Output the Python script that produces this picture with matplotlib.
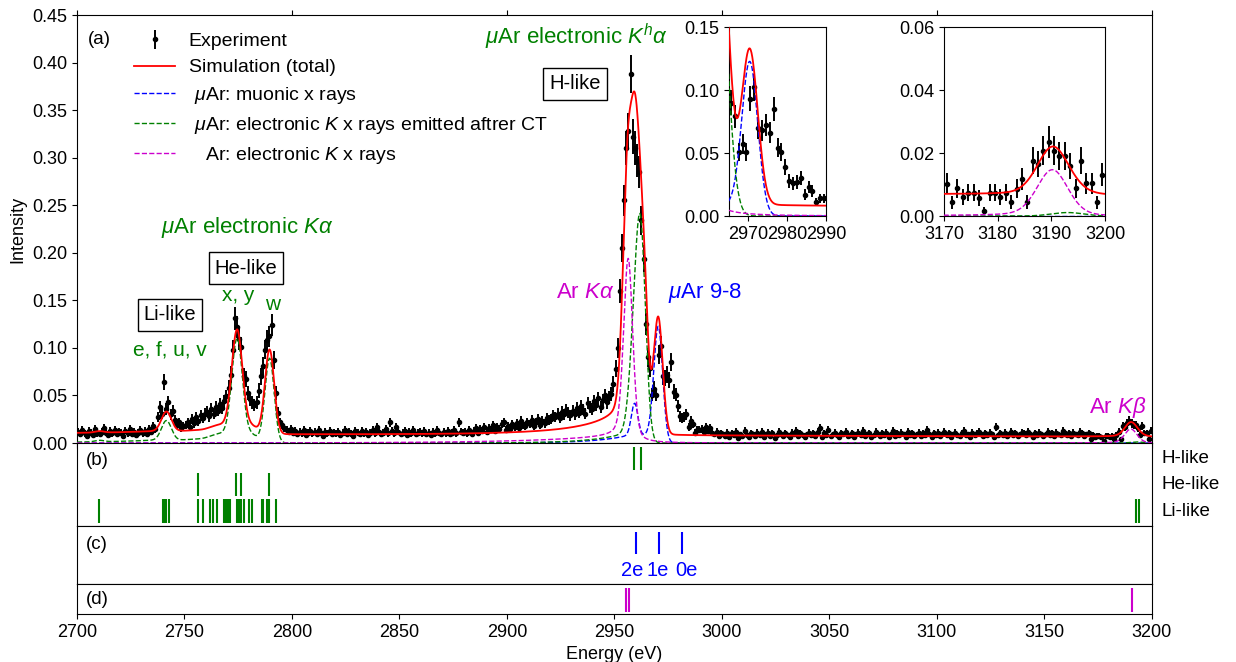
import math
import numpy as np
import matplotlib
matplotlib.use("Agg")
import matplotlib.pyplot as plt
from matplotlib.lines import Line2D

plt.rcParams['font.family'] = ['Liberation Sans', 'DejaVu Sans']
plt.rcParams['font.size'] = 13
plt.rcParams['mathtext.fontset'] = 'custom'
plt.rcParams['mathtext.rm'] = 'Liberation Sans'
plt.rcParams['mathtext.it'] = 'Liberation Sans:italic'

# ---- experiment: 1 eV bins, intensity in units of 1e-3 ----
bin_start = 2700
exp_milli = [
    12, 9, 14, 10, 7, 13, 11, 8, 15, 10,
    9, 12, 16, 11, 8, 13, 10, 14, 9, 12,
    11, 7, 13, 10, 15, 9, 12, 8, 11, 14,
    10, 13, 9, 15, 12, 18, 15, 27, 38, 31,
    64, 36, 43, 30, 34, 24, 19, 22, 16, 18,
    19, 22, 17, 25, 21, 27, 23, 29, 26, 31,
    33, 28, 36, 31, 38, 34, 41, 37, 44, 49,
    58, 72, 98, 131, 122, 109, 101, 70, 67, 53,
    46, 43, 40, 43, 55, 70, 81, 98, 108, 112,
    124, 87, 53, 32, 22, 19, 16, 14, 12, 15,
    11, 13, 9, 12, 10, 14, 8, 11, 13, 10,
    12, 9, 14, 11, 7, 12, 10, 13, 9, 11,
    10, 12, 8, 11, 14, 9, 12, 10, 7, 13,
    11, 9, 13, 10, 12, 8, 11, 14, 10, 17,
    12, 9, 11, 15, 10, 22, 13, 10, 17, 12,
    9, 11, 13, 8, 12, 10, 14, 9, 11, 12,
    10, 13, 9, 11, 8, 12, 10, 14, 11, 9,
    12, 10, 13, 9, 11, 14, 10, 22, 12, 11,
    12, 10, 14, 9, 13, 16, 11, 15, 13, 17,
    12, 16, 14, 19, 13, 17, 15, 20, 22, 14,
    18, 15, 20, 17, 21, 16, 23, 19, 18, 22,
    20, 24, 18, 22, 25, 19, 23, 21, 26, 24,
    25, 29, 27, 31, 26, 33, 30, 35, 32, 29,
    34, 30, 37, 32, 39, 35, 31, 42, 38, 36,
    44, 40, 47, 38, 45, 50, 43, 48, 52, 62,
    78, 100, 160, 205, 255, 310, 328, 388, 322, 310,
    297, 285, 234, 194, 125, 90, 79, 51, 57, 51,
    93, 102, 70, 68, 72, 66, 85, 54, 51, 39,
    28, 26, 27, 30, 17, 23, 20, 11, 14, 14,
    15, 12, 17, 13, 16, 11, 9, 12, 7, 10,
    9, 7, 11, 6, 10, 8, 12, 5, 9, 7,
    13, 8, 6, 10, 9, 7, 11, 8, 12, 6,
    9, 11, 7, 10, 5, 8, 12, 9, 7, 10,
    8, 6, 11, 9, 13, 7, 10, 8, 6, 9,
    11, 8, 10, 7, 12, 16, 6, 10, 8, 14,
    7, 9, 11, 8, 6, 10, 9, 12, 7, 8,
    10, 6, 9, 11, 8, 13, 7, 9, 10, 6,
    8, 12, 9, 7, 10, 8, 11, 6, 9, 13,
    7, 10, 8, 11, 9, 6, 12, 8, 10, 7,
    9, 11, 7, 10, 8, 14, 9, 6, 10, 8,
    11, 7, 9, 12, 8, 10, 6, 9, 11, 8,
    7, 10, 13, 8, 9, 6, 11, 8, 10, 12,
    9, 7, 10, 8, 11, 9, 6, 17, 8, 10,
    8, 11, 7, 9, 12, 8, 10, 7, 9, 11,
    10, 8, 12, 9, 6, 10, 8, 11, 9, 7,
    9, 12, 8, 10, 7, 11, 9, 8, 13, 10,
    8, 10, 7, 11, 9, 8, 12, 10, 7, 9,
    10.3, 4.3, 8.8, 6.1, 7.4, 7.4, 5.8, 1.6, 7.4, 7.4,
    6.0, 7.4, 4.5, 8.7, 11.8, 4.5, 17.6, 16.5, 20.7, 23.5,
    20.7, 19.0, 19.0, 16.0, 8.8, 17.6, 10.4, 10.4, 4.3, 13.1,
]
count_unit = 0.00105  # intensity of one count (Poisson error bars)

# ---- simulation components: peak tables ----
bg_energy = [2700, 3200]
bg_level = [0.0097, 0.0066]

green_c = [2710.5, 2741.6, 2763.2, 2767.2, 2774.5, 2781.2, 2789.6, 2959.1, 2962.3, 3193.0]
green_h = [0.0015, 0.0205, 0.002, 0.003, 0.105, 0.005, 0.087, 0.075, 0.2, 0.0011]
green_w = [5.0, 5.4, 6.0, 6.0, 5.9, 5.0, 5.0, 5.6, 5.5, 7.0]
green_eta = [0, 0, 0, 0, 0, 0, 0, 0, 0, 0]
green_tail = [0.05, 0.05, 0, 0, 0.05, 0, 0.05, 0.057, 0.057, 0]
green_tau = [30, 30, 30, 30, 30, 30, 30, 15, 15, 30]

blue_c = [2959.4, 2970.4]
blue_h = [0.034, 0.117]
blue_w = [3.6, 4.8]
blue_eta = [0, 0]
blue_tail = [0.107, 0.107]
blue_tau = [15, 15]

mag_c = [2956.4, 3190.2]
mag_h = [0.19, 0.0145]
mag_w = [5.0, 6.8]
mag_eta = [0.3, 0.2]
mag_tail = [0.045, 0.03]
mag_tau = [40, 20]

# part of the total not shown as a separate dashed curve
extra_c = [2955.0, 2959.3, 2964.6]
extra_h = [0.06, 0.065, 0.015]
extra_w = [4.5, 4.0, 2.5]

# ---- line lists for panels (b)-(d) ----
h_like = [2958.9, 2962.4]
he_like = [2756.4, 2773.9, 2776.1, 2789.3]
li_like = [2710.2, 2740.0, 2740.8, 2741.6, 2742.6, 2756.4, 2758.8, 2761.9, 2763.1,
           2765.0, 2768.4, 2769.2, 2770.1, 2771.2, 2774.3, 2775.2, 2776.1, 2777.7,
           2780.1, 2781.3, 2785.9, 2786.7, 2788.5, 2789.2, 2792.6, 3192.5, 3194.0]
muonic_lines = [2960.0, 2970.8, 2981.3]
muonic_labels = ['2e', '1e', '0e']
muonic_label_x = [2958.3, 2970.2, 2983.6]
ar_lines = [2955.4, 2956.8, 3190.6]

erfc = np.vectorize(math.erfc)


def peak(x, c, h, fwhm, eta=0.0, tail=0.0, tau=20.0):
    s = fwhm / 2.3548
    d = x - c
    core = (1 - eta) * np.exp(-0.5 * (d / s) ** 2) + eta / (1 + (2 * d / fwhm) ** 2)
    z = d / (s * np.sqrt(2)) + s / (tau * np.sqrt(2))
    low = np.exp(d / tau + s ** 2 / (2 * tau ** 2)) * 0.5 * erfc(z)
    return h * (core + tail * low)


def component(x, cs, hs, ws, etas, tails, taus):
    y = np.zeros_like(x)
    for c, h, w, e, t, ta in zip(cs, hs, ws, etas, tails, taus):
        y += peak(x, c, h, w, e, t, ta)
    return y


E = np.linspace(2700, 3200, 5001)
green = component(E, green_c, green_h, green_w, green_eta, green_tail, green_tau)
blue = component(E, blue_c, blue_h, blue_w, blue_eta, blue_tail, blue_tau)
mag = component(E, mag_c, mag_h, mag_w, mag_eta, mag_tail, mag_tau)
extra = sum(peak(E, c, h, w) for c, h, w in zip(extra_c, extra_h, extra_w))
bg = bg_level[0] + (bg_level[1] - bg_level[0]) * (E - bg_energy[0]) / (bg_energy[1] - bg_energy[0])
total = bg + green + blue + mag + extra

y_exp = np.array(exp_milli) / 1000.0
x_exp = bin_start + 0.5 + np.arange(len(y_exp))
y_err = np.sqrt(y_exp / count_unit) * count_unit

GREEN = (0, 0.5, 0)
MAG = (0.8, 0, 0.8)

fig = plt.figure(figsize=(12.36, 6.62), dpi=100)
L, W = 0.0623, 0.8697
ax = fig.add_axes([L, 0.3308, W, 0.6465])
axb = fig.add_axes([L, 0.2054, W, 0.1254])
axc = fig.add_axes([L, 0.1178, W, 0.0876])
axd = fig.add_axes([L, 0.0725, W, 0.0453])
ins1 = fig.add_axes([0.5898, 0.6737, 0.0785, 0.2855])
ins2 = fig.add_axes([0.7638, 0.6737, 0.1303, 0.2855])


def draw_spectrum(a, ms=3, lw_e=1.4):
    a.errorbar(x_exp, y_exp, yerr=y_err, fmt='o', ms=ms, color='k', elinewidth=lw_e,
               capsize=0, zorder=2)
    a.plot(E, total, color='r', lw=1.3, zorder=4)
    a.plot(E, blue, color='b', lw=1.0, ls='--', zorder=3)
    a.plot(E, green, color=GREEN, lw=1.0, ls='--', zorder=3)
    a.plot(E, mag, color=MAG, lw=1.0, ls='--', zorder=3)


draw_spectrum(ax)
ax.set_xlim(2700, 3200)
ax.set_ylim(0, 0.45)
ax.set_yticks(np.arange(0, 0.451, 0.05))
ax.set_xticks(np.arange(2700, 3201, 100))
ax.tick_params(axis='x', which='both', top=True, bottom=True, labelbottom=False, direction='out')
ax.set_ylabel('Intensity')

eb = ax.errorbar([], [], yerr=[], fmt='o', ms=3, color='k', elinewidth=1.4, capsize=0)
handles = [
    eb,
    Line2D([], [], color='r', lw=1.3),
    Line2D([], [], color='b', lw=1.0, ls='--'),
    Line2D([], [], color=GREEN, lw=1.0, ls='--'),
    Line2D([], [], color=MAG, lw=1.0, ls='--'),
]
labels = ['Experiment', 'Simulation (total)', ' $\\mu$Ar: muonic x rays',
          ' $\\mu$Ar: electronic $K$ x rays emitted aftrer CT', '   Ar: electronic $K$ x rays']
ax.legend(handles, labels, loc='upper left', bbox_to_anchor=(0.037, 1.0), frameon=False,
          fontsize=14, handlelength=2.1, handletextpad=0.7, labelspacing=0.45)

ax.text(2705, 0.424, '(a)', ha='left', va='center', fontsize=13.5)
box = dict(boxstyle='square,pad=0.3', fc='white', ec='k', lw=1)
ax.text(2932.3, 0.427, '$\\mu$Ar electronic $K^h\\alpha$', color=GREEN, fontsize=16,
        ha='center', va='center')
ax.text(2931.6, 0.3775, 'H-like', fontsize=14.5, ha='center', va='center', bbox=box)
ax.text(2779.3, 0.227, '$\\mu$Ar electronic $K\\alpha$', color=GREEN, fontsize=16,
        ha='center', va='center')
ax.text(2778.6, 0.184, 'He-like', fontsize=14.5, ha='center', va='center', bbox=box)
ax.text(2774.9, 0.1556, 'x, y', color=GREEN, fontsize=15, ha='center', va='center')
ax.text(2791.2, 0.146, 'w', color=GREEN, fontsize=15, ha='center', va='center')
ax.text(2743.3, 0.1346, 'Li-like', fontsize=14.5, ha='center', va='center', bbox=box)
ax.text(2743.3, 0.098, 'e, f, u, v', color=GREEN, fontsize=15, ha='center', va='center')
ax.text(2936.3, 0.158, 'Ar $K\\alpha$', color=MAG, fontsize=16, ha='center', va='center')
ax.text(2992.1, 0.158, '$\\mu$Ar 9-8', color='b', fontsize=16, ha='center', va='center')
ax.text(3184.2, 0.037, 'Ar $K\\beta$', color=MAG, fontsize=16, ha='center', va='center')

# insets
draw_spectrum(ins1)
ins1.set_xlim(2965, 2990)
ins1.set_ylim(0, 0.15)
ins1.set_xticks([2970, 2980, 2990])
ins1.set_yticks([0, 0.05, 0.10, 0.15])
ins1.set_yticklabels(['0.00', '0.05', '0.10', '0.15'])
draw_spectrum(ins2)
ins2.set_xlim(3170, 3200)
ins2.set_ylim(0, 0.06)
ins2.set_xticks([3170, 3180, 3190, 3200])
ins2.set_yticks([0, 0.02, 0.04, 0.06])
ins2.set_yticklabels(['0.00', '0.02', '0.04', '0.06'])
for a in (ins1, ins2):
    a.tick_params(labelsize=13)

# panel (b)
axb.vlines(h_like, 0.675, 0.95, color=GREEN, lw=1.5)
axb.vlines(he_like, 0.36, 0.64, color=GREEN, lw=1.5)
axb.vlines(li_like, 0.035, 0.325, color=GREEN, lw=1.5)
axb.text(0.008, 0.795, '(b)', transform=axb.transAxes, ha='left', va='center', fontsize=13.5)
for yy, lab in zip([0.815, 0.5, 0.18], ['H-like', 'He-like', 'Li-like']):
    axb.text(1.009, yy, lab, transform=axb.transAxes, ha='left', va='center', fontsize=13.5)

# panel (c)
axc.vlines(muonic_lines, 0.51, 0.9, color='b', lw=1.5)
for xx, lab in zip(muonic_label_x, muonic_labels):
    axc.text(xx, 0.24, lab, color='b', fontsize=14.5, ha='center', va='center')
axc.text(0.008, 0.69, '(c)', transform=axc.transAxes, ha='left', va='center', fontsize=13.5)

# panel (d)
axd.vlines(ar_lines, 0.08, 0.86, color=MAG, lw=1.5)
axd.text(0.008, 0.5, '(d)', transform=axd.transAxes, ha='left', va='center', fontsize=13.5)

for a in (axb, axc, axd):
    a.set_xlim(2700, 3200)
    a.set_ylim(0, 1)
    a.set_yticks([])
for a in (axb, axc):
    a.set_xticks([])
axd.set_xticks(np.arange(2700, 3201, 50))
axd.set_xlabel('Energy (eV)')

fig.savefig('out.png', dpi=100)
